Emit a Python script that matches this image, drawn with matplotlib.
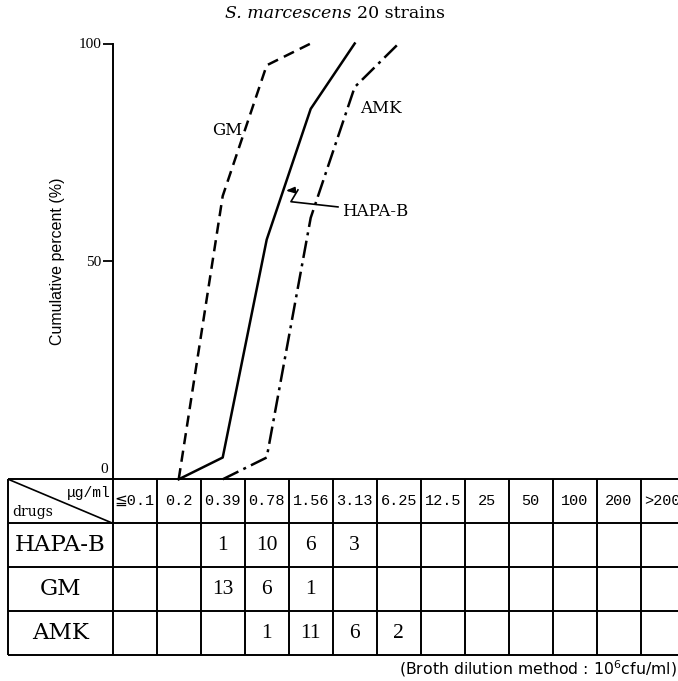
import numpy as np
import matplotlib.pyplot as plt

# MIC distribution, S. marcescens 20 strains
conc = ['≦0.1', '0.2', '0.39', '0.78', '1.56', '3.13', '6.25',
        '12.5', '25', '50', '100', '200', '>200']
drugs = ['HAPA-B', 'GM', 'AMK']
hapa_b = [0, 0, 1, 10, 6, 3, 0, 0, 0, 0, 0, 0, 0]
gm = [0, 0, 13, 6, 1, 0, 0, 0, 0, 0, 0, 0, 0]
amk = [0, 0, 0, 1, 11, 6, 2, 0, 0, 0, 0, 0, 0]
counts = [hapa_b, gm, amk]
n_strains = 20

W, H = 678, 681
fig = plt.figure(figsize=(W / 100, H / 100), dpi=100)

serif = ['Liberation Serif', 'DejaVu Serif']
wide_serif = ['DejaVu Serif']
mono = ['Liberation Mono', 'DejaVu Sans']

# pixel layout helpers
col_w = 44.0
x_axis = 112.7
y_top, y_zero, y_bot = 43.5, 479.3, 655.0
tab_left = 8.3
ncol = len(conc)
x_right = x_axis + ncol * col_w

ax = fig.add_axes([x_axis / W, 1 - y_zero / H, (x_right - x_axis) / W, (y_zero - y_top) / H])
ax.set_xlim(0, ncol)
ax.set_ylim(0, 100)
for s in ['top', 'right', 'bottom']:
    ax.spines[s].set_visible(False)
ax.spines['left'].set_linewidth(1.4)
ax.set_xticks([])
ax.set_yticks([50, 100])
ax.set_yticklabels(['50', '100'], fontfamily=serif, fontsize=11)
ax.tick_params(axis='y', length=7, width=1.3, pad=1)
ax.text(-0.008, 0.022, '0', transform=ax.transAxes, ha='right', va='center',
        fontfamily=serif, fontsize=11)
ax.set_ylabel('Cumulative percent (%)', fontfamily='Liberation Sans', fontsize=11.5, labelpad=10)

styles = {
    'HAPA-B': dict(linestyle='-'),
    'GM': dict(linestyle=(0, (4.5, 2.6))),
    'AMK': dict(linestyle=(0, (7, 2.2, 1.2, 2.2))),
}
for name, c in zip(drugs, counts):
    cum = np.cumsum(c) / n_strains * 100
    first = int(np.nonzero(c)[0][0])
    last = int(np.argmax(cum >= 100))
    xs = np.arange(first - 1, last + 1) + 0.5
    ys = np.concatenate([[0], cum[first:last + 1]])
    ax.plot(xs, ys, color='black', lw=1.8, clip_on=False, **styles[name])

ax.text(2.94, 80.0, 'GM', ha='right', va='center', fontfamily=wide_serif, fontsize=12)
ax.text(5.62, 85.0, 'AMK', ha='left', va='center', fontfamily=wide_serif, fontsize=12)
ax.text(5.21, 61.5, 'HAPA-B', ha='left', va='center', fontfamily=wide_serif, fontsize=12)
# zigzag leader to the HAPA-B curve
lead_x = [5.12, 4.05, 4.21]
lead_y = [62.5, 63.7, 66.4]
ax.plot(lead_x, lead_y, color='black', lw=1.2)
ax.annotate('', xy=(3.87, 66.2), xytext=(4.21, 66.4),
            arrowprops=dict(arrowstyle='-|>,head_length=0.5,head_width=0.18', color='black', lw=1.2))

# title
fig.text(351 / W, 1 - 14 / H, 'S. marcescens', ha='right', va='center',
         fontfamily=wide_serif, fontstyle='italic', fontsize=12.5)
fig.text(357 / W, 1 - 14 / H, '20 strains', ha='left', va='center',
         fontfamily=wide_serif, fontsize=12.5)

# MIC table
tx0 = -(x_axis - tab_left) / col_w
tab = fig.add_axes([tab_left / W, 1 - y_bot / H, (x_right - tab_left) / W, (y_bot - y_zero) / H])
tab.set_xlim(tx0, ncol)
tab.set_ylim(4, 0)
tab.axis('off')
nrow = len(drugs) + 1
tab.hlines(np.arange(nrow + 1), tx0, ncol, color='black', lw=1.4, clip_on=False)
tab.vlines(np.concatenate([[tx0], np.arange(ncol + 1)]), 0, nrow, color='black', lw=1.4, clip_on=False)
tab.plot([tx0, 0], [0, 1], color='black', lw=1.2)
tab.text(-0.05, 0.32, 'μg/ml', ha='right', va='center', fontfamily=mono, fontsize=10.5)
tab.text(tx0 + 0.1, 0.75, 'drugs', ha='left', va='center', fontfamily=wide_serif, fontsize=10)

for j, lab in enumerate(conc):
    tab.text(j + 0.5, 0.5, lab, ha='center', va='center', fontfamily=mono, fontsize=11, clip_on=False)

for i, (name, c) in enumerate(zip(drugs, counts)):
    tab.text(tx0 / 2, i + 1.5, name, ha='center', va='center', fontfamily=wide_serif, fontsize=16.5)
    for j, v in enumerate(c):
        if v:
            tab.text(j + 0.5, i + 1.5, str(v), ha='center', va='center', fontfamily=serif, fontsize=15.5)

fig.text(677 / W, 1 - 669 / H, '(Broth dilution method : 10$^6$cfu/ml)', ha='right', va='center',
         fontfamily='DejaVu Sans', fontsize=11.3)

fig.savefig('out.png', dpi=100)
